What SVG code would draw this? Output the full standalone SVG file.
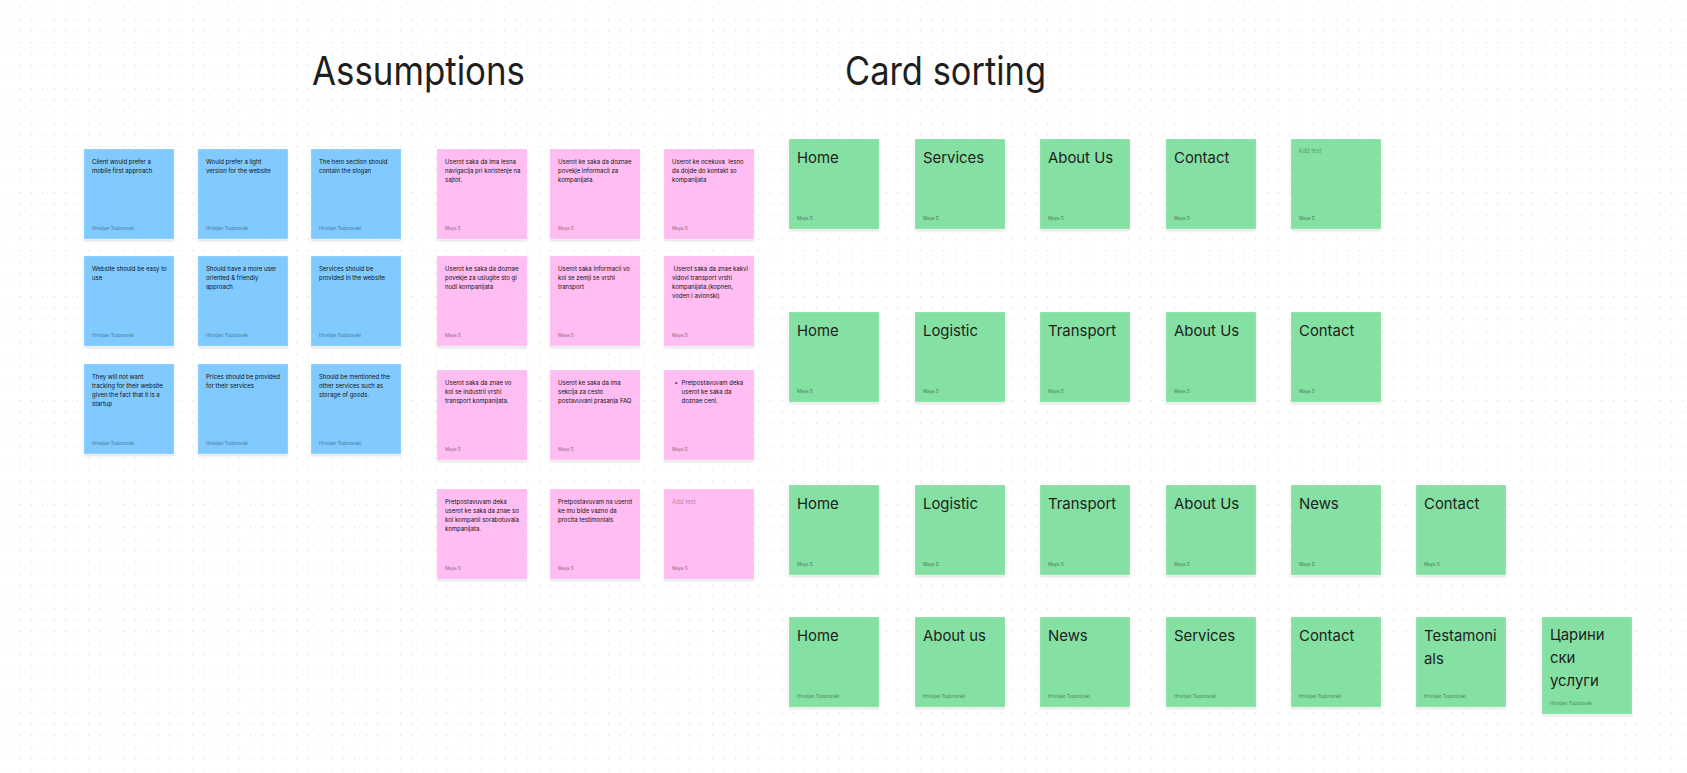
<svg xmlns="http://www.w3.org/2000/svg" width="1687" height="773" viewBox="0 0 1687 773">
<defs>
<pattern id="dots" x="7.5" y="7.3" width="11.55" height="11.55" patternUnits="userSpaceOnUse">
<circle cx="0.6" cy="0.6" r="0.6" fill="#cfcfcf"/>
</pattern>
<filter id="sh" x="-10%" y="-10%" width="120%" height="125%">
<feDropShadow dx="0" dy="1.5" stdDeviation="1.2" flood-color="#000" flood-opacity="0.16"/>
</filter>
<style>
.card{filter:url(#sh);stroke:rgba(255,255,255,0.35);stroke-width:0.6}
.blue{fill:#80CAFF}
.pink{fill:#FFBDF2}
.green{fill:#85E0A3}
text{font-family:Inter,"Noto Sans",sans-serif}
.body{font-size:6px;fill:#111111}
.auth{font-size:4.5px;fill:rgba(0,0,0,0.5)}
.ttl{font-size:14.9px;fill:#1e1e1e}
.ph{fill:rgba(0,0,0,0.35)}
.h1{font-size:39px;font-weight:400;fill:#1e1e1e}
</style>
</defs>
<rect width="1687" height="773" fill="#ffffff"/>
<rect width="1687" height="773" fill="url(#dots)"/>

<text class="h1" x="312" y="85" textLength="213" lengthAdjust="spacingAndGlyphs">Assumptions</text>
<text class="h1" x="845" y="85" textLength="201" lengthAdjust="spacingAndGlyphs">Card sorting</text>

<!-- Blue stickies -->
<g id="b1"><rect class="card blue" x="84" y="149" width="90" height="90"/><text class="body" x="92" y="163.5"><tspan x="92">Client would prefer a</tspan><tspan x="92" dy="9">mobile first approach</tspan></text><text class="auth" x="92" y="229.5">Hristijan Todorovski</text></g>
<g id="b2"><rect class="card blue" x="198" y="149" width="90" height="90"/><text class="body" x="206" y="163.5"><tspan x="206">Would prefer a light</tspan><tspan x="206" dy="9">version for the website</tspan></text><text class="auth" x="206" y="229.5">Hristijan Todorovski</text></g>
<g id="b3"><rect class="card blue" x="311" y="149" width="90" height="90"/><text class="body" x="319" y="163.5"><tspan x="319">The hero section should</tspan><tspan x="319" dy="9">contain the slogan</tspan></text><text class="auth" x="319" y="229.5">Hristijan Todorovski</text></g>

<g id="b4"><rect class="card blue" x="84" y="256" width="90" height="90"/><text class="body" x="92" y="270.5"><tspan x="92">Website should be easy to</tspan><tspan x="92" dy="9">use</tspan></text><text class="auth" x="92" y="336.5">Hristijan Todorovski</text></g>
<g id="b5"><rect class="card blue" x="198" y="256" width="90" height="90"/><text class="body" x="206" y="270.5"><tspan x="206">Should have a more user</tspan><tspan x="206" dy="9">oriented &amp; friendly</tspan><tspan x="206" dy="9">approach</tspan></text><text class="auth" x="206" y="336.5">Hristijan Todorovski</text></g>
<g id="b6"><rect class="card blue" x="311" y="256" width="90" height="90"/><text class="body" x="319" y="270.5"><tspan x="319">Services should be</tspan><tspan x="319" dy="9">provided in the website</tspan></text><text class="auth" x="319" y="336.5">Hristijan Todorovski</text></g>

<g id="b7"><rect class="card blue" x="84" y="364" width="90" height="90"/><text class="body" x="92" y="378.5"><tspan x="92">They will not want</tspan><tspan x="92" dy="9">tracking for their website</tspan><tspan x="92" dy="9">given the fact that it is a</tspan><tspan x="92" dy="9">startup</tspan></text><text class="auth" x="92" y="444.5">Hristijan Todorovski</text></g>
<g id="b8"><rect class="card blue" x="198" y="364" width="90" height="90"/><text class="body" x="206" y="378.5"><tspan x="206">Prices should be provided</tspan><tspan x="206" dy="9">for their services</tspan></text><text class="auth" x="206" y="444.5">Hristijan Todorovski</text></g>
<g id="b9"><rect class="card blue" x="311" y="364" width="90" height="90"/><text class="body" x="319" y="378.5"><tspan x="319">Should be mentioned the</tspan><tspan x="319" dy="9">other services such as</tspan><tspan x="319" dy="9">storage of goods.</tspan></text><text class="auth" x="319" y="444.5">Hristijan Todorovski</text></g>

<!-- Pink stickies -->
<g id="p1"><rect class="card pink" x="437" y="149" width="90" height="90"/><text class="body" x="445" y="164"><tspan x="445">Userot saka da ima lesna</tspan><tspan x="445" dy="9">navigacija pri koristenje na</tspan><tspan x="445" dy="9">sajtot.</tspan></text><text class="auth" x="445" y="229.5">Maya S</text></g>
<g id="p2"><rect class="card pink" x="550" y="149" width="90" height="90"/><text class="body" x="558" y="164"><tspan x="558">Userot ke saka da doznae</tspan><tspan x="558" dy="9">povekje informacii za</tspan><tspan x="558" dy="9">kompanijata.</tspan></text><text class="auth" x="558" y="229.5">Maya S</text></g>
<g id="p3"><rect class="card pink" x="664" y="149" width="90" height="90"/><text class="body" x="672" y="164" xml:space="preserve"><tspan x="672">Userot ke ocekuva  lesno</tspan><tspan x="672" dy="9">da dojde do kontakt so</tspan><tspan x="672" dy="9">kompanijata</tspan></text><text class="auth" x="672" y="229.5">Maya S</text></g>

<g id="p4"><rect class="card pink" x="437" y="256" width="90" height="90"/><text class="body" x="445" y="271"><tspan x="445">Userot ke saka da doznae</tspan><tspan x="445" dy="9">povekje za uslugite sto gi</tspan><tspan x="445" dy="9">nudi kompanijata</tspan></text><text class="auth" x="445" y="336.5">Maya S</text></g>
<g id="p5"><rect class="card pink" x="550" y="256" width="90" height="90"/><text class="body" x="558" y="271"><tspan x="558">Userot saka informacii vo</tspan><tspan x="558" dy="9">koi se zemji se vrshi</tspan><tspan x="558" dy="9">transport</tspan></text><text class="auth" x="558" y="336.5">Maya S</text></g>
<g id="p6"><rect class="card pink" x="664" y="256" width="90" height="90"/><text class="body" x="672" y="271"><tspan x="673.5">Userot saka da znae kakvi</tspan><tspan x="672" dy="9">vidovi transport vrshi</tspan><tspan x="672" dy="9">kompanijata.(kopnen,</tspan><tspan x="672" dy="9">voden i avionski)</tspan></text><text class="auth" x="672" y="336.5">Maya S</text></g>

<g id="p7"><rect class="card pink" x="437" y="370" width="90" height="90"/><text class="body" x="445" y="385"><tspan x="445">Userot saka da znae vo</tspan><tspan x="445" dy="9">koi se industrii vrshi</tspan><tspan x="445" dy="9">transport kompanijata.</tspan></text><text class="auth" x="445" y="450.5">Maya S</text></g>
<g id="p8"><rect class="card pink" x="550" y="370" width="90" height="90"/><text class="body" x="558" y="385"><tspan x="558">Userot ke saka da ima</tspan><tspan x="558" dy="9">sekcija za cesto</tspan><tspan x="558" dy="9">postavuvani prasanja FAQ</tspan></text><text class="auth" x="558" y="450.5">Maya S</text></g>
<g id="p9"><rect class="card pink" x="664" y="370" width="90" height="90"/><text class="body" x="674.5" y="385">•</text><text class="body" x="681.5" y="385"><tspan x="681.5">Pretpostavuvam deka</tspan><tspan x="681.5" dy="9">userot ke saka da</tspan><tspan x="681.5" dy="9">doznae ceni.</tspan></text><text class="auth" x="672" y="450.5">Maya S</text></g>

<g id="p10"><rect class="card pink" x="437" y="489" width="90" height="90"/><text class="body" x="445" y="504"><tspan x="445">Pretpostavuvam deka</tspan><tspan x="445" dy="9">userot ke saka da znae so</tspan><tspan x="445" dy="9">koi kompanii sorabotuvala</tspan><tspan x="445" dy="9">kompanijata.</tspan></text><text class="auth" x="445" y="569.5">Maya S</text></g>
<g id="p11"><rect class="card pink" x="550" y="489" width="90" height="90"/><text class="body" x="558" y="504"><tspan x="558">Pretpostavuvam na userot</tspan><tspan x="558" dy="9">ke mu bide vazno da</tspan><tspan x="558" dy="9">procita testimonials</tspan></text><text class="auth" x="558" y="569.5">Maya S</text></g>
<g id="p12"><rect class="card pink" x="664" y="489" width="90" height="90"/><text class="body ph" x="672" y="504">Add text</text><text class="auth" x="672" y="569.5">Maya S</text></g>

<!-- Green row 1 -->
<g id="g1-1"><rect class="card green" x="789" y="139" width="90" height="90"/><text class="ttl" x="797" y="163">Home</text><text class="auth" x="797" y="219.5">Maya S</text></g>
<g id="g1-2"><rect class="card green" x="915" y="139" width="90" height="90"/><text class="ttl" x="923" y="163">Services</text><text class="auth" x="923" y="219.5">Maya S</text></g>
<g id="g1-3"><rect class="card green" x="1040" y="139" width="90" height="90"/><text class="ttl" x="1048" y="163">About Us</text><text class="auth" x="1048" y="219.5">Maya S</text></g>
<g id="g1-4"><rect class="card green" x="1166" y="139" width="90" height="90"/><text class="ttl" x="1174" y="163">Contact</text><text class="auth" x="1174" y="219.5">Maya S</text></g>
<g id="g1-5"><rect class="card green" x="1291" y="139" width="90" height="90"/><text class="body ph" x="1298" y="153">Add text</text><text class="auth" x="1299" y="219.5">Maya S</text></g>

<!-- Green row 2 -->
<g id="g2-1"><rect class="card green" x="789" y="312" width="90" height="90"/><text class="ttl" x="797" y="336">Home</text><text class="auth" x="797" y="392.5">Maya S</text></g>
<g id="g2-2"><rect class="card green" x="915" y="312" width="90" height="90"/><text class="ttl" x="923" y="336">Logistic</text><text class="auth" x="923" y="392.5">Maya S</text></g>
<g id="g2-3"><rect class="card green" x="1040" y="312" width="90" height="90"/><text class="ttl" x="1048" y="336">Transport</text><text class="auth" x="1048" y="392.5">Maya S</text></g>
<g id="g2-4"><rect class="card green" x="1166" y="312" width="90" height="90"/><text class="ttl" x="1174" y="336">About Us</text><text class="auth" x="1174" y="392.5">Maya S</text></g>
<g id="g2-5"><rect class="card green" x="1291" y="312" width="90" height="90"/><text class="ttl" x="1299" y="336">Contact</text><text class="auth" x="1299" y="392.5">Maya S</text></g>

<!-- Green row 3 -->
<g id="g3-1"><rect class="card green" x="789" y="485" width="90" height="90"/><text class="ttl" x="797" y="509">Home</text><text class="auth" x="797" y="565.5">Maya S</text></g>
<g id="g3-2"><rect class="card green" x="915" y="485" width="90" height="90"/><text class="ttl" x="923" y="509">Logistic</text><text class="auth" x="923" y="565.5">Maya S</text></g>
<g id="g3-3"><rect class="card green" x="1040" y="485" width="90" height="90"/><text class="ttl" x="1048" y="509">Transport</text><text class="auth" x="1048" y="565.5">Maya S</text></g>
<g id="g3-4"><rect class="card green" x="1166" y="485" width="90" height="90"/><text class="ttl" x="1174" y="509">About Us</text><text class="auth" x="1174" y="565.5">Maya S</text></g>
<g id="g3-5"><rect class="card green" x="1291" y="485" width="90" height="90"/><text class="ttl" x="1299" y="509">News</text><text class="auth" x="1299" y="565.5">Maya S</text></g>
<g id="g3-6"><rect class="card green" x="1416" y="485" width="90" height="90"/><text class="ttl" x="1424" y="509">Contact</text><text class="auth" x="1424" y="565.5">Maya S</text></g>

<!-- Green row 4 -->
<g id="g4-1"><rect class="card green" x="789" y="617" width="90" height="90"/><text class="ttl" x="797" y="641">Home</text><text class="auth" x="797" y="697.5">Hristijan Todorovski</text></g>
<g id="g4-2"><rect class="card green" x="915" y="617" width="90" height="90"/><text class="ttl" x="923" y="641">About us</text><text class="auth" x="923" y="697.5">Hristijan Todorovski</text></g>
<g id="g4-3"><rect class="card green" x="1040" y="617" width="90" height="90"/><text class="ttl" x="1048" y="641">News</text><text class="auth" x="1048" y="697.5">Hristijan Todorovski</text></g>
<g id="g4-4"><rect class="card green" x="1166" y="617" width="90" height="90"/><text class="ttl" x="1174" y="641">Services</text><text class="auth" x="1174" y="697.5">Hristijan Todorovski</text></g>
<g id="g4-5"><rect class="card green" x="1291" y="617" width="90" height="90"/><text class="ttl" x="1299" y="641">Contact</text><text class="auth" x="1299" y="697.5">Hristijan Todorovski</text></g>
<g id="g4-6"><rect class="card green" x="1416" y="617" width="90" height="90"/><text class="ttl" x="1424" y="641"><tspan x="1424">Testamoni</tspan><tspan x="1424" dy="22.5">als</tspan></text><text class="auth" x="1424" y="697.5">Hristijan Todorovski</text></g>
<g id="g4-7"><rect class="card green" x="1542" y="617" width="90" height="97"/><text class="ttl" x="1550" y="640"><tspan x="1550">Царини</tspan><tspan x="1550" dy="23">ски</tspan><tspan x="1550" dy="23">услуги</tspan></text><text class="auth" x="1550" y="704.5">Hristijan Todorovski</text></g>

<g id="connectors"/>
</svg>
